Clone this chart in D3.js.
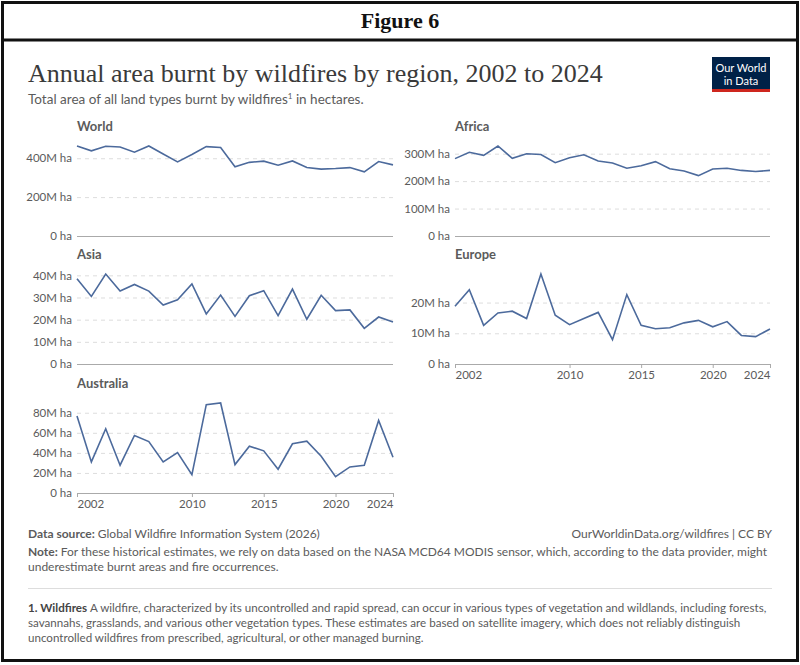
<!DOCTYPE html>
<html lang="en">
  <head>
    <meta charset="UTF-8" />
    <title>Annual area burnt by wildfires</title>
    <style>
      body { margin: 0; background: #fff; }
      text { font-family: Lato, "Noto Sans", sans-serif; }
    </style>
  </head>
  <body>
    <svg id="svg" width="800" height="665"></svg>

    <script src="https://d3js.org/d3.v7.min.js"></script>
    <script>
      const years = d3.range(2002, 2025);
      const world = [463, 438, 462, 458, 431, 463, 422, 381, 419, 460, 455, 356, 379, 385, 364, 386, 352, 344, 347, 352, 330, 383, 366];
      const africa = [282, 305, 294, 328, 283, 300, 297, 267, 285, 296, 273, 266, 247, 256, 271, 245, 237, 220, 244, 247, 239, 235, 239];
      const asia = [38.5, 30.5, 40.6, 32.9, 35.9, 32.9, 26.6, 29, 36.1, 22.6, 31.1, 21.5, 30.8, 33.1, 21.8, 33.8, 20.2, 31, 24.1, 24.4, 16.1, 21.2, 18.9];
      const europe = [18.8, 24.2, 12.6, 16.6, 17.2, 14.8, 29.3, 15.9, 12.8, 14.8, 16.8, 7.9, 22.6, 12.6, 11.5, 11.8, 13.4, 14.2, 12.1, 13.8, 9.3, 8.9, 11.4];
      const australia = [76.7, 31, 64, 27.7, 57.3, 51.3, 31, 40.3, 18.3, 88, 89.7, 28.3, 46.7, 42, 23.7, 49, 51.7, 36.7, 16.3, 26, 27.7, 72.3, 35.7];
      const xTicks = [2002, 2010, 2015, 2020, 2024];

      const panels = [
        { name: "World", values: world, ticks: [0, 200, 400], col: 0, row: 0, xAxis: false },
        { name: "Africa", values: africa, ticks: [0, 100, 200, 300], col: 1, row: 0, xAxis: false },
        { name: "Asia", values: asia, ticks: [0, 10, 20, 30, 40], col: 0, row: 1, xAxis: false },
        { name: "Europe", values: europe, ticks: [0, 10, 20], col: 1, row: 1, xAxis: true },
        { name: "Australia", values: australia, ticks: [0, 20, 40, 60, 80], col: 0, row: 2, xAxis: true },
      ];

      const svg = d3.select("#svg");
      const grey = "#5b5b5b";

      // frame
      svg.append("rect").attr("x", 2.5).attr("y", 2.5).attr("width", 795).attr("height", 658)
        .attr("fill", "none").attr("stroke", "#111").attr("stroke-width", 3);
      svg.append("line").attr("x1", 2).attr("x2", 798).attr("y1", 40).attr("y2", 40)
        .attr("stroke", "#111").attr("stroke-width", 3);
      svg.append("text").attr("x", 400).attr("y", 28).attr("text-anchor", "middle")
        .style("font-family", "'Liberation Serif', serif").style("font-weight", "bold")
        .style("font-size", "22px").attr("fill", "#111").text("Figure 6");

      // header
      svg.append("text").attr("x", 28).attr("y", 82)
        .style("font-family", "'Liberation Serif', 'DejaVu Serif', serif")
        .style("font-size", "26px").attr("fill", "#3a3a3a")
        .text("Annual area burnt by wildfires by region, 2002 to 2024");
      const sub = svg.append("text").attr("x", 28).attr("y", 104)
        .style("font-size", "13.5px").attr("fill", grey);
      sub.append("tspan").text("Total area of all land types burnt by wildfires");
      sub.append("tspan").attr("dy", -5).style("font-size", "8px").text("1");
      sub.append("tspan").attr("dy", 5).text(" in hectares.");

      svg.append("rect").attr("x", 712).attr("y", 57).attr("width", 58).attr("height", 35).attr("fill", "#002147");
      svg.append("rect").attr("x", 712).attr("y", 89).attr("width", 58).attr("height", 3).attr("fill", "#ce261e");
      svg.append("text").attr("x", 741).attr("y", 72).attr("text-anchor", "middle")
        .style("font-size", "11px").attr("fill", "#fff").text("Our World");
      svg.append("text").attr("x", 741).attr("y", 85).attr("text-anchor", "middle")
        .style("font-size", "11px").attr("fill", "#fff").text("in Data");

      // panels
      const colX = [[77, 393], [455, 770]];
      const rowY = [[236, 146], [364, 274], [493, 403]];
      const fmt = (v) => (v === 0 ? "0 ha" : v + "M ha");

      panels.forEach((p) => {
        const [x0, x1] = colX[p.col];
        const [yb, yt] = rowY[p.row];
        const x = d3.scaleLinear().domain([2002, 2024]).range([x0, x1]);
        const y = d3.scaleLinear().domain([0, d3.max(p.values)]).range([yb, yt]);
        const g = svg.append("g");

        g.append("text").attr("x", x0).attr("y", yt - 15)
          .style("font-size", "13px").style("font-weight", "bold").attr("fill", grey).text(p.name);

        const yAxis = d3.axisLeft(y).tickValues(p.ticks).tickFormat(fmt).tickSize(-(x1 - x0)).tickPadding(5);
        const ya = g.append("g").attr("transform", `translate(${x0},0)`).call(yAxis);
        ya.select(".domain").remove();
        ya.selectAll("line").attr("stroke", "#ddd").attr("stroke-dasharray", "4,4");
        ya.selectAll(".tick").filter((d) => d === 0).select("line")
          .attr("stroke", "#aaa").attr("stroke-dasharray", null);
        ya.selectAll("text").style("font-size", "11.5px").attr("fill", grey)
          .style("font-family", "Lato, sans-serif");

        if (p.xAxis) {
          const xa = g.append("g").attr("transform", `translate(0,${yb})`)
            .call(d3.axisBottom(x).tickValues(xTicks).tickFormat(d3.format("d")).tickSize(4).tickPadding(3));
          xa.select(".domain").remove();
          xa.selectAll("line").attr("stroke", "#aaa");
          xa.selectAll("text").style("font-size", "11.5px").attr("fill", grey)
            .style("font-family", "Lato, sans-serif")
            .attr("text-anchor", (d) => (d === 2002 ? "start" : d === 2024 ? "end" : "middle"));
        }

        g.append("path")
          .datum(p.values)
          .attr("fill", "none")
          .attr("stroke", "#4c6a9c")
          .attr("stroke-width", 1.6)
          .attr("d", d3.line().x((d, i) => x(years[i])).y((d) => y(d)));
      });

      // footer
      const src = svg.append("text").attr("x", 28).attr("y", 538).style("font-size", "12px").attr("fill", grey);
      src.append("tspan").style("font-weight", "bold").text("Data source: ");
      src.append("tspan").text("Global Wildfire Information System (2026)");
      svg.append("text").attr("x", 772).attr("y", 538).attr("text-anchor", "end")
        .style("font-size", "12px").attr("fill", grey).text("OurWorldinData.org/wildfires | CC BY");

      const note = svg.append("text").attr("x", 28).attr("y", 556).style("font-size", "12px").attr("fill", grey);
      note.append("tspan").style("font-weight", "bold").text("Note: ");
      note.append("tspan").text("For these historical estimates, we rely on data based on the NASA MCD64 MODIS sensor, which, according to the data provider, might");
      svg.append("text").attr("x", 28).attr("y", 571).style("font-size", "12px").attr("fill", grey)
        .text("underestimate burnt areas and fire occurrences.");

      svg.append("line").attr("x1", 28).attr("x2", 772).attr("y1", 588.5).attr("y2", 588.5).attr("stroke", "#ddd");

      const fs = "11.6px";
      const fn = svg.append("text").attr("x", 28).attr("y", 612).style("font-size", fs).attr("fill", grey);
      fn.append("tspan").style("font-weight", "bold").attr("fill", "#444").text("1. Wildfires ");
      fn.append("tspan").text("A wildfire, characterized by its uncontrolled and rapid spread, can occur in various types of vegetation and wildlands, including forests,");
      svg.append("text").attr("x", 28).attr("y", 627).style("font-size", fs).attr("fill", grey)
        .text("savannahs, grasslands, and various other vegetation types. These estimates are based on satellite imagery, which does not reliably distinguish");
      svg.append("text").attr("x", 28).attr("y", 642).style("font-size", fs).attr("fill", grey)
        .text("uncontrolled wildfires from prescribed, agricultural, or other managed burning.");
    </script>
  </body>
</html>
